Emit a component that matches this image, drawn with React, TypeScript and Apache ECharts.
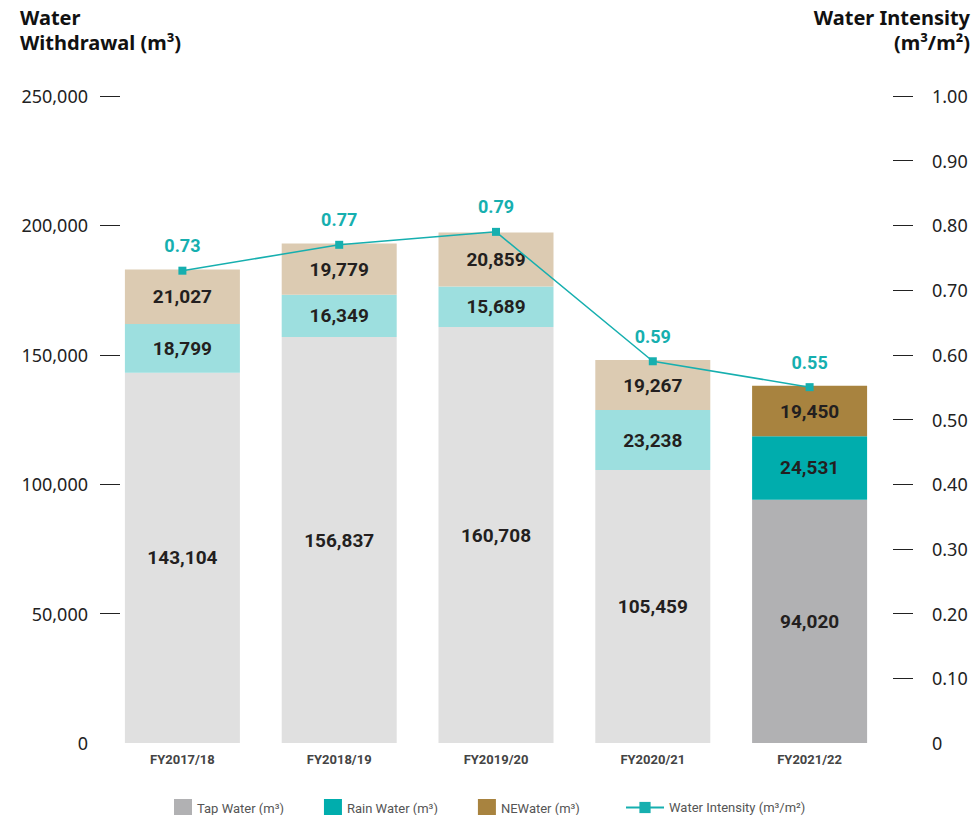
import React, { useEffect, useRef } from "react";
import * as echarts from "echarts";

const categories = ["FY2017/18", "FY2018/19", "FY2019/20", "FY2020/21", "FY2021/22"];
const tapWater = [143104, 156837, 160708, 105459, 94020];
const rainWater = [18799, 16349, 15689, 23238, 24531];
const neWater = [21027, 19779, 20859, 19267, 19450];
const intensity = [0.73, 0.77, 0.79, 0.59, 0.55];

const leftTicks = [0, 50000, 100000, 150000, 200000, 250000];
const rightTicks = [0, 0.1, 0.2, 0.3, 0.4, 0.5, 0.6, 0.7, 0.8, 0.9, 1.0];

const FONT = "Roboto, 'Noto Sans', sans-serif";
const TICK_FONT = "'Noto Sans', Roboto, sans-serif";

const LIGHT = { tap: "#e0e0e0", rain: "#9ddfdf", ne: "#dccbb2" };
const DARK = { tap: "#b1b1b3", rain: "#00adad", ne: "#a8833f" };
const LINE = "#16afaf";

const fmt = (v: number) => v.toLocaleString("en-US");

function stackData(values: number[], light: string) {
  return values.map((v, i) =>
    i === values.length - 1 ? { value: v } : { value: v, itemStyle: { color: light } }
  );
}

export default function App() {
  const ref = useRef<HTMLDivElement>(null);
  useEffect(() => {
    if (!ref.current) return;
    const chart = echarts.init(ref.current, undefined, { renderer: "svg" });
    const barLabel = {
      show: true,
      position: "inside",
      fontFamily: FONT,
      fontWeight: "bold",
      fontSize: 19,
      color: "#231f20",
      formatter: (p: any) => fmt(p.value),
    };
    const titleStyle = {
      fontFamily: TICK_FONT,
      fontWeight: "bold",
      fontSize: 20,
      fill: "#111",
    };
    chart.setOption({
      animation: false,
      textStyle: { fontFamily: FONT },
      grid: { left: 104, right: 88, top: 96, bottom: 72 },
      graphic: [
        { type: "text", x: 20, y: 7, style: { ...titleStyle, text: "Water" } },
        { type: "text", x: 20, y: 32, style: { ...titleStyle, text: "Withdrawal (m³)" } },
        { type: "text", x: 970, y: 7, style: { ...titleStyle, text: "Water Intensity", align: "right" } },
        { type: "text", x: 970, y: 32, style: { ...titleStyle, text: "(m³/m²)", align: "right" } },
      ],
      legend: [
        {
          data: ["Tap Water (m³)", "Rain Water (m³)", "NEWater (m³)"],
          left: 169,
          top: 794,
          icon: "rect",
          itemWidth: 18,
          itemHeight: 18,
          itemGap: 40,
          textStyle: { fontFamily: FONT, fontSize: 13, color: "#555" },
        },
        {
          data: ["Water Intensity (m³/m²)"],
          left: 620,
          top: 796,
          itemWidth: 38,
          itemHeight: 14,
          textStyle: { fontFamily: FONT, fontSize: 13, color: "#555" },
        },
      ],
      xAxis: {
        type: "category",
        data: categories,
        axisLine: { show: false },
        axisTick: { show: false },
        axisLabel: {
          margin: 10,
          fontFamily: FONT,
          fontWeight: "bold",
          fontSize: 13,
          color: "#444",
        },
      },
      yAxis: [
        {
          type: "value",
          min: 0,
          max: 250000,
          interval: 50000,
          position: "left",
          offset: 4,
          splitLine: { show: false },
          axisLine: { show: false },
          axisTick: {
            show: true,
            inside: true,
            length: 20,
            lineStyle: { color: "#222", width: 1 },
            customValues: leftTicks.filter((v) => v !== 0),
          },
          axisLabel: {
            margin: 12,
            fontFamily: TICK_FONT,
            fontSize: 18,
            color: "#222",
            customValues: leftTicks,
            formatter: (v: number) => fmt(v),
          },
        },
        {
          type: "value",
          min: 0,
          max: 1,
          interval: 0.1,
          position: "right",
          offset: 25,
          splitLine: { show: false },
          axisLine: { show: false },
          axisTick: {
            show: true,
            inside: true,
            length: 20,
            lineStyle: { color: "#222", width: 1 },
            customValues: rightTicks.filter((v) => v !== 0),
          },
          axisLabel: {
            margin: 19,
            fontFamily: TICK_FONT,
            fontSize: 18,
            color: "#222",
            customValues: rightTicks,
            formatter: (v: number) => (v === 0 ? "0" : v.toFixed(2)),
          },
        },
      ],
      series: [
        {
          name: "Tap Water (m³)",
          type: "bar",
          stack: "w",
          barWidth: 115,
          itemStyle: { color: DARK.tap },
          label: barLabel,
          data: stackData(tapWater, LIGHT.tap),
        },
        {
          name: "Rain Water (m³)",
          type: "bar",
          stack: "w",
          barWidth: 115,
          itemStyle: { color: DARK.rain },
          label: barLabel,
          data: stackData(rainWater, LIGHT.rain),
        },
        {
          name: "NEWater (m³)",
          type: "bar",
          stack: "w",
          barWidth: 115,
          itemStyle: { color: DARK.ne },
          label: barLabel,
          data: stackData(neWater, LIGHT.ne),
        },
        {
          name: "Water Intensity (m³/m²)",
          type: "line",
          yAxisIndex: 1,
          symbol: "rect",
          symbolSize: 8,
          itemStyle: { color: LINE },
          lineStyle: { color: LINE, width: 1.5 },
          label: {
            show: true,
            position: "top",
            distance: 12,
            fontFamily: FONT,
            fontWeight: "bold",
            fontSize: 18,
            color: LINE,
            formatter: (p: any) => p.value.toFixed(2),
          },
          data: intensity,
        },
      ],
    });
    return () => chart.dispose();
  }, []);
  return <div ref={ref} style={{ width: 976, height: 815, position: "absolute", left: 0, top: 0 }} />;
}
